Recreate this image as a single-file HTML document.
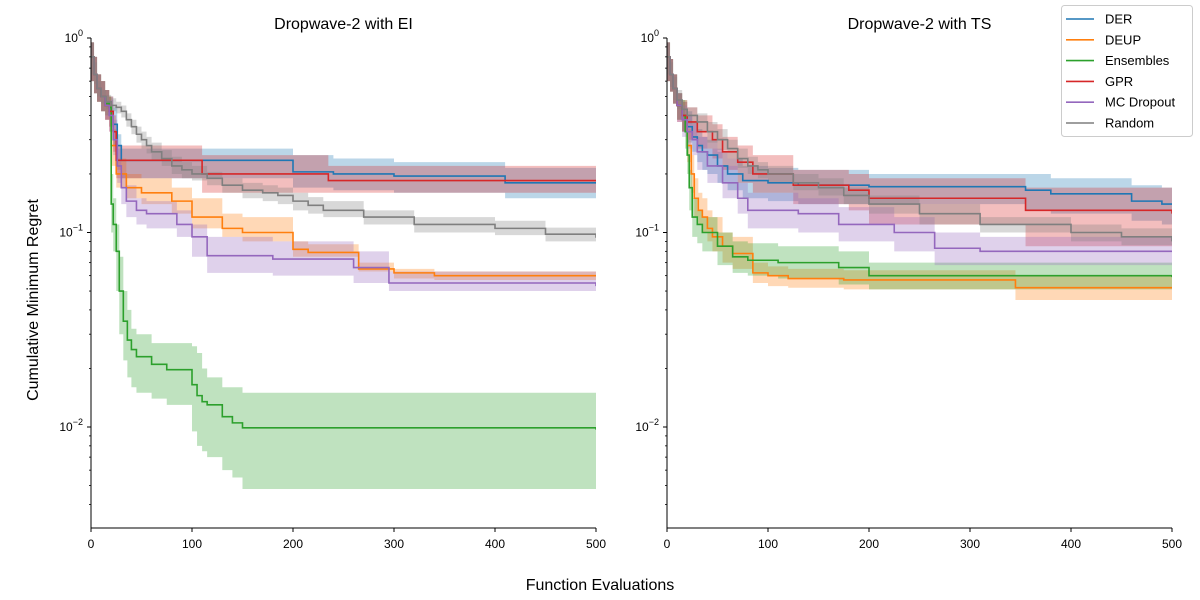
<!DOCTYPE html>
<html><head><meta charset="utf-8"><style>
body{margin:0;background:#fff;}
svg{display:block;font-family:"Liberation Sans","DejaVu Sans",sans-serif;}
</style></head><body>
<svg id="chart" width="1200" height="600"></svg>
<script>
const xTicks=[0,100,200,300,400,500];
const seriesNames=["DER","DEUP","Ensembles","GPR","MC Dropout","Random"];
const colors=["#1f77b4","#ff7f0e","#2ca02c","#d62728","#9467bd","#7f7f7f"];
// Left panel (EI)
const eiDerX=[0,3,6,10,14,18,22,26,30,200,240,300,410,500];
const eiDerM=[0.8,0.65,0.55,0.5,0.45,0.42,0.36,0.28,0.235,0.205,0.2,0.195,0.18,0.18];
const eiDerLo=[0.6,0.52,0.47,0.42,0.38,0.35,0.28,0.21,0.19,0.17,0.165,0.16,0.15,0.15];
const eiDerHi=[0.95,0.8,0.65,0.6,0.54,0.5,0.44,0.32,0.27,0.25,0.24,0.23,0.215,0.215];
const eiDeupX=[0,3,6,10,14,18,20,25,35,50,80,100,130,150,200,215,265,300,340,500];
const eiDeupM=[0.8,0.65,0.55,0.5,0.45,0.42,0.28,0.2,0.17,0.16,0.145,0.12,0.105,0.1,0.082,0.079,0.065,0.062,0.06,0.06];
const eiDeupLo=[0.6,0.52,0.47,0.42,0.38,0.35,0.22,0.17,0.15,0.14,0.125,0.105,0.095,0.09,0.075,0.075,0.063,0.058,0.057,0.057];
const eiDeupHi=[0.95,0.8,0.65,0.6,0.54,0.5,0.34,0.24,0.2,0.19,0.17,0.15,0.125,0.12,0.09,0.087,0.07,0.065,0.063,0.063];
const eiEnsX=[0,3,6,10,14,18,20,22,25,28,32,36,40,45,60,75,100,105,110,115,130,140,150,500];
const eiEnsM=[0.8,0.65,0.55,0.5,0.46,0.44,0.14,0.11,0.08,0.05,0.035,0.028,0.025,0.023,0.021,0.0197,0.0165,0.0145,0.0135,0.013,0.0113,0.0105,0.0099,0.0097];
const eiEnsLo=[0.6,0.52,0.47,0.42,0.4,0.38,0.1,0.08,0.05,0.03,0.022,0.018,0.016,0.015,0.014,0.013,0.0095,0.008,0.0075,0.007,0.006,0.0055,0.0048,0.0046];
const eiEnsHi=[0.95,0.8,0.65,0.6,0.54,0.5,0.2,0.15,0.11,0.075,0.05,0.04,0.032,0.03,0.027,0.027,0.026,0.024,0.02,0.018,0.016,0.016,0.015,0.015];
const eiGprX=[0,3,6,10,14,18,22,25,110,235,500];
const eiGprM=[0.8,0.65,0.55,0.5,0.45,0.42,0.33,0.235,0.2,0.185,0.185];
const eiGprLo=[0.6,0.52,0.47,0.42,0.38,0.33,0.26,0.19,0.16,0.16,0.16];
const eiGprHi=[0.95,0.8,0.65,0.6,0.54,0.5,0.4,0.28,0.25,0.22,0.22];
const eiMcX=[0,3,6,10,14,18,22,26,30,35,45,55,85,100,115,180,260,295,500];
const eiMcM=[0.8,0.65,0.55,0.5,0.45,0.4,0.3,0.22,0.17,0.145,0.13,0.125,0.11,0.095,0.076,0.073,0.066,0.055,0.053];
const eiMcLo=[0.6,0.52,0.47,0.42,0.38,0.33,0.25,0.18,0.14,0.12,0.11,0.105,0.095,0.075,0.062,0.06,0.055,0.05,0.046];
const eiMcHi=[0.95,0.8,0.65,0.6,0.54,0.48,0.38,0.27,0.2,0.175,0.15,0.145,0.13,0.11,0.095,0.09,0.08,0.063,0.06];
const eiRndX=[0,3,6,10,15,20,25,30,35,40,45,50,55,60,70,80,90,100,115,130,150,170,185,200,215,230,270,320,400,450,500];
const eiRndM=[0.8,0.65,0.55,0.5,0.47,0.45,0.44,0.42,0.38,0.35,0.32,0.3,0.28,0.26,0.24,0.22,0.21,0.2,0.19,0.175,0.165,0.16,0.155,0.145,0.138,0.13,0.12,0.11,0.105,0.098,0.094];
const eiRndLo=[0.65,0.58,0.5,0.46,0.43,0.42,0.41,0.39,0.35,0.32,0.29,0.27,0.255,0.235,0.22,0.2,0.19,0.185,0.175,0.16,0.15,0.145,0.14,0.13,0.125,0.12,0.11,0.1,0.097,0.09,0.087];
const eiRndHi=[0.95,0.75,0.6,0.54,0.51,0.49,0.47,0.45,0.41,0.38,0.35,0.33,0.31,0.29,0.265,0.245,0.23,0.22,0.205,0.19,0.18,0.175,0.17,0.16,0.152,0.145,0.13,0.12,0.115,0.106,0.1];
// Right panel (TS)
const tsDerX=[0,3,6,10,15,20,25,30,35,40,50,60,75,100,130,200,355,380,460,490,500];
const tsDerM=[0.8,0.65,0.55,0.45,0.4,0.35,0.31,0.28,0.26,0.25,0.22,0.2,0.185,0.18,0.175,0.172,0.165,0.158,0.145,0.14,0.14];
const tsDerLo=[0.6,0.53,0.46,0.38,0.33,0.29,0.26,0.23,0.21,0.2,0.18,0.165,0.15,0.145,0.14,0.14,0.13,0.125,0.115,0.11,0.11];
const tsDerHi=[0.95,0.78,0.65,0.52,0.47,0.42,0.37,0.34,0.31,0.3,0.26,0.24,0.22,0.215,0.21,0.2,0.2,0.19,0.175,0.17,0.17];
const tsDeupX=[0,3,6,10,15,20,24,27,31,35,40,45,55,65,85,100,120,175,345,500];
const tsDeupM=[0.8,0.65,0.55,0.45,0.4,0.28,0.2,0.15,0.13,0.12,0.105,0.095,0.085,0.078,0.062,0.06,0.058,0.057,0.052,0.052];
const tsDeupLo=[0.6,0.53,0.46,0.38,0.33,0.23,0.16,0.12,0.11,0.1,0.09,0.08,0.07,0.065,0.055,0.053,0.052,0.051,0.045,0.045];
const tsDeupHi=[0.95,0.78,0.65,0.52,0.48,0.34,0.25,0.19,0.16,0.15,0.13,0.12,0.1,0.095,0.07,0.067,0.065,0.064,0.06,0.06];
const tsEnsX=[0,3,6,10,15,18,20,22,25,30,35,50,65,80,110,170,200,500];
const tsEnsM=[0.8,0.65,0.55,0.45,0.4,0.33,0.25,0.17,0.12,0.11,0.1,0.085,0.075,0.072,0.07,0.066,0.06,0.059];
const tsEnsLo=[0.6,0.53,0.46,0.38,0.33,0.27,0.2,0.13,0.095,0.088,0.08,0.068,0.062,0.06,0.058,0.054,0.051,0.05];
const tsEnsHi=[0.95,0.78,0.65,0.52,0.48,0.4,0.3,0.21,0.15,0.13,0.12,0.1,0.09,0.088,0.085,0.08,0.07,0.069];
const tsGprX=[0,3,6,10,15,20,30,45,55,70,85,125,180,200,355,500];
const tsGprM=[0.8,0.65,0.55,0.45,0.4,0.37,0.33,0.3,0.26,0.23,0.2,0.175,0.165,0.15,0.13,0.125];
const tsGprLo=[0.6,0.53,0.46,0.37,0.33,0.3,0.27,0.24,0.21,0.18,0.16,0.14,0.13,0.11,0.085,0.085];
const tsGprHi=[0.95,0.78,0.65,0.52,0.47,0.44,0.4,0.36,0.31,0.28,0.25,0.21,0.2,0.19,0.17,0.17];
const tsMcX=[0,3,6,10,15,20,25,30,40,55,70,80,130,170,225,265,310,500];
const tsMcM=[0.8,0.65,0.55,0.45,0.38,0.33,0.3,0.26,0.22,0.18,0.15,0.13,0.125,0.11,0.1,0.083,0.08,0.08];
const tsMcLo=[0.6,0.53,0.46,0.37,0.31,0.27,0.25,0.21,0.18,0.15,0.125,0.105,0.1,0.09,0.08,0.068,0.068,0.068];
const tsMcHi=[0.95,0.78,0.65,0.52,0.45,0.4,0.36,0.31,0.27,0.22,0.18,0.16,0.15,0.135,0.12,0.1,0.095,0.095];
const tsRndX=[0,3,6,10,15,20,30,40,50,60,70,80,90,100,125,150,175,200,250,310,400,450,500];
const tsRndM=[0.8,0.65,0.55,0.48,0.43,0.4,0.37,0.33,0.3,0.27,0.24,0.22,0.21,0.2,0.18,0.17,0.155,0.14,0.125,0.11,0.1,0.095,0.09];
const tsRndLo=[0.65,0.56,0.48,0.43,0.39,0.36,0.33,0.29,0.265,0.24,0.215,0.2,0.19,0.18,0.165,0.155,0.14,0.125,0.11,0.1,0.09,0.086,0.082];
const tsRndHi=[0.95,0.75,0.63,0.54,0.48,0.44,0.41,0.37,0.34,0.3,0.27,0.245,0.23,0.22,0.2,0.19,0.17,0.155,0.14,0.12,0.11,0.105,0.1];

const panels=[
 {x0:91,title:"Dropwave-2 with EI",name:"ei",data:[[eiDerX,eiDerM,eiDerLo,eiDerHi],[eiDeupX,eiDeupM,eiDeupLo,eiDeupHi],[eiEnsX,eiEnsM,eiEnsLo,eiEnsHi],[eiGprX,eiGprM,eiGprLo,eiGprHi],[eiMcX,eiMcM,eiMcLo,eiMcHi],[eiRndX,eiRndM,eiRndLo,eiRndHi]]},
 {x0:667,title:"Dropwave-2 with TS",name:"ts",data:[[tsDerX,tsDerM,tsDerLo,tsDerHi],[tsDeupX,tsDeupM,tsDeupLo,tsDeupHi],[tsEnsX,tsEnsM,tsEnsLo,tsEnsHi],[tsGprX,tsGprM,tsGprLo,tsGprHi],[tsMcX,tsMcM,tsMcLo,tsMcHi],[tsRndX,tsRndM,tsRndLo,tsRndHi]]}
];
const NS="http://www.w3.org/2000/svg";
const svg=document.getElementById("chart");
const Y0=38,DEC=194.5,YB=528,W=505;
function yS(v){return Y0-Math.log10(v)*DEC;}
function el(tag,attrs,parent){const e=document.createElementNS(NS,tag);for(const k in attrs)e.setAttribute(k,attrs[k]);(parent||svg).appendChild(e);return e;}
function stepPts(xs,ys,xS){const p=[];for(let i=0;i<xs.length;i++){const x=xS(xs[i]);if(i>0)p.push([x,yS(ys[i-1])]);p.push([x,yS(ys[i])]);}return p;}
panels.forEach(P=>{
 const xS=v=>P.x0+v/500*W;
 const g=el("g",{});
 
 
 const cp=el("clipPath",{id:"c"+P.name},g);el("rect",{x:P.x0,y:Y0,width:W,height:YB-Y0},cp);
 const plot=el("g",{"clip-path":"url(#c"+P.name+")"},g);
 P.data.forEach((d,i)=>{
  const up=stepPts(d[0],d[3],xS),lo=stepPts(d[0],d[2],xS).reverse();
  const band=el("polygon",{points:up.concat(lo).map(p=>p.join(",")).join(" "),fill:colors[i],"fill-opacity":0.3,stroke:"none"},plot);
  
  
 });
 P.data.forEach((d,i)=>{
  const ln=el("polyline",{points:stepPts(d[0],d[1],xS).map(p=>p.join(",")).join(" "),fill:"none",stroke:colors[i],"stroke-width":1.6},plot);
  
  
 });
 el("line",{x1:P.x0,y1:Y0,x2:P.x0,y2:YB,stroke:"#000","stroke-width":1},g);
 el("line",{x1:P.x0,y1:YB,x2:P.x0+W,y2:YB,stroke:"#000","stroke-width":1},g);
 xTicks.forEach(t=>{
  const x=xS(t);el("line",{x1:x,y1:YB,x2:x,y2:YB+4,stroke:"#000"},g);
  const tx=el("text",{x:x,y:YB+20,"text-anchor":"middle","font-size":12},g);tx.textContent=t;
  
  
 });
 [0,-1,-2].forEach(e=>{
  const y=yS(Math.pow(10,e));el("line",{x1:P.x0-4,y1:y,x2:P.x0,y2:y,stroke:"#000"},g);
  const tx=el("text",{x:P.x0-8,y:y+4,"text-anchor":"end","font-size":12},g);
  tx.innerHTML="10<tspan dy='-6' font-size='9'>"+(e===0?"0":"\u2212"+(-e))+"</tspan>";
  
  
 });
 for(let e=-3;e<0;e++)for(let m=2;m<10;m++){const v=m*Math.pow(10,e);const y=yS(v);if(y>YB)continue;el("line",{x1:P.x0-2,y1:y,x2:P.x0,y2:y,stroke:"#000","stroke-width":0.8},g);}
 const t=el("text",{x:P.x0+W/2,y:29,"text-anchor":"middle","font-size":16},g);t.textContent=P.title;
 
 
});
const yl=el("text",{x:38,y:300,"text-anchor":"middle","font-size":16,transform:"rotate(-90 38 300)"});yl.textContent="Cumulative Minimum Regret";


const xl=el("text",{x:600,y:590,"text-anchor":"middle","font-size":16});xl.textContent="Function Evaluations";


const lg=el("g",{});


el("rect",{x:1061.5,y:5.5,width:131,height:131,rx:3,fill:"#fff","fill-opacity":0.8,stroke:"#ccc"},lg);
seriesNames.forEach((n,i)=>{
 const y=19+i*20.8;
 el("line",{x1:1066,y1:y,x2:1094,y2:y,stroke:colors[i],"stroke-width":1.6},lg);
 const t=el("text",{x:1105,y:y+4.5,"font-size":13},lg);t.textContent=n;
 
 
});
</script>
</body></html>
